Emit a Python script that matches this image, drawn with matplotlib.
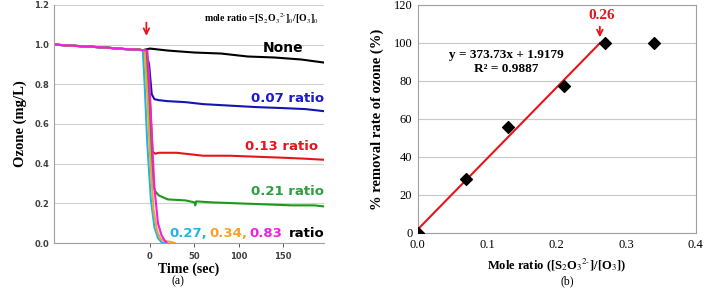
import numpy as np
import matplotlib
matplotlib.use("Agg")
import matplotlib.pyplot as plt

plt.rcParams["mathtext.fontset"] = "stix"

# ---- data (a): ozone vs time ----
t_pre = [-108, -90, -70, -50, -30, -15, -8]
o_pre = [1.0, 0.995, 0.99, 0.985, 0.978, 0.975, 0.972]

t_none = [0, 20, 50, 80, 110, 140, 170, 195]
o_none = [0.98, 0.97, 0.96, 0.955, 0.94, 0.935, 0.925, 0.91]
t_007 = [-5, -1, 2, 5, 10, 20, 40, 60, 80, 100, 120, 150, 175, 195]
o_007 = [0.97, 0.9, 0.75, 0.725, 0.72, 0.715, 0.71, 0.70, 0.695, 0.69, 0.685, 0.68, 0.675, 0.665]
t_013 = [-5, -1, 3, 6, 10, 30, 60, 90, 120, 150, 175, 195]
o_013 = [0.97, 0.8, 0.46, 0.45, 0.455, 0.455, 0.44, 0.44, 0.435, 0.43, 0.425, 0.42]
t_021 = [-5, -1, 3, 6, 10, 20, 40, 50, 51, 52, 70, 100, 130, 160, 185, 195]
o_021 = [0.97, 0.7, 0.3, 0.26, 0.24, 0.22, 0.215, 0.205, 0.19, 0.21, 0.205, 0.2, 0.195, 0.19, 0.19, 0.185]
t_027 = [-8, -6, -3, 1, 5, 9, 13, 16]
o_027 = [0.97, 0.8, 0.5, 0.22, 0.08, 0.025, 0.005, 0.0]
t_034 = [-6, -3, 0, 4, 8, 12, 18, 24, 28]
o_034 = [0.97, 0.75, 0.45, 0.17, 0.06, 0.02, 0.01, 0.005, 0.0]
t_083 = [-3, -1, 2, 5, 9, 13, 17, 19]
o_083 = [0.97, 0.85, 0.55, 0.28, 0.1, 0.04, 0.01, 0.0]

# ---- data (b): removal vs mole ratio ----
ratio = [0.0, 0.07, 0.13, 0.21, 0.27, 0.34]
removal = [0, 28.5, 55.5, 77.5, 100, 100]
slope, intercept = 373.73, 1.9179
fit_end = 0.262

fig = plt.figure(figsize=(7.07, 2.88), dpi=100)
serif = "Liberation Serif"

# ---------------- panel (a) ----------------
ax = fig.add_axes([0.0764, 0.156, 0.382, 0.827])
series = [
    (t_none, o_none, "black"),
    (t_007, o_007, "#1414b4"),
    (t_013, o_013, "#e8141c"),
    (t_021, o_021, "#1a9a1a"),
    (t_027, o_027, "#22b4e8"),
    (t_034, o_034, "#f7a030"),
    (t_083, o_083, "#f020e0"),
]
for t, o, c in series:
    ax.plot(t_pre + t, o_pre + o, color=c, lw=1.5)
ax.set_xlim(-108, 196)
ax.set_ylim(0, 1.2)
ax.set_xticks([0, 50, 100, 150])
ax.set_yticks(np.arange(0, 1.21, 0.2))
ax.set_yticklabels(["%.1f" % v for v in np.arange(0, 1.21, 0.2)])
ax.tick_params(labelsize=6, colors="#404040", length=3, width=0.6)
for lab in ax.get_xticklabels() + ax.get_yticklabels():
    lab.set_fontweight("bold")
ax.tick_params(axis="y", length=0)
ax.grid(axis="y", color="#d0d0d0", lw=0.8)
ax.set_axisbelow(True)
for s in ["top", "right"]:
    ax.spines[s].set_visible(False)
for s in ["left", "bottom"]:
    ax.spines[s].set_color("#a0a0a0")
ax.set_xlabel("Time (sec)", family=serif, fontweight="bold", fontsize=10, labelpad=1)
ax.set_ylabel("Ozone (mg/L)", family=serif, fontweight="bold", fontsize=10.5, labelpad=5)

ax.annotate("", xy=(-4, 1.03), xytext=(-4, 1.125),
            arrowprops=dict(arrowstyle="->", color="#e8141c", lw=1.3))
ax.text(190, 1.13, r"mole ratio =[S$_2$O$_3$$^{2\text{-}}$]$_0$/[O$_3$]$_0$",
        family=serif, fontweight="bold", fontsize=7, ha="right", va="center")
ax.text(150, 0.985, "None", fontsize=10, fontweight="bold", ha="center", va="center")
ax.text(155, 0.73, "0.07 ratio", fontsize=9.5, fontweight="bold", color="#1a1ad0", ha="center", va="center")
ax.text(148, 0.485, "0.13 ratio", fontsize=9.5, fontweight="bold", color="#e8141c", ha="center", va="center")
ax.text(155, 0.26, "0.21 ratio", fontsize=9.5, fontweight="bold", color="#2aa040", ha="center", va="center")
y_lab = 0.048
ax.text(22, y_lab, "0.27,", fontsize=9.5, fontweight="bold", color="#22b4e8", va="center")
ax.text(67, y_lab, "0.34,", fontsize=9.5, fontweight="bold", color="#f7a030", va="center")
ax.text(112, y_lab, "0.83", fontsize=9.5, fontweight="bold", color="#f020e0", va="center")
ax.text(156, y_lab, "ratio", fontsize=9.5, fontweight="bold", color="black", va="center", clip_on=False)
fig.text(178 / 707, 1 - 281 / 288, "(a)", family=serif, fontsize=8.5, ha="center", va="center")

# ---------------- panel (b) ----------------
bx = fig.add_axes([0.591, 0.191, 0.393, 0.792])
xf = np.array([0.0, fit_end])
bx.plot(xf, slope * xf + intercept, color="#e8141c", lw=1.5, zorder=2)
bx.scatter(ratio, removal, marker="D", s=36, color="black", zorder=3)
bx.set_xlim(0, 0.4)
bx.set_ylim(0, 120)
bx.set_xticks([0.0, 0.1, 0.2, 0.3, 0.4])
bx.set_xticklabels(["0.0", "0.1", "0.2", "0.3", "0.4"])
bx.set_yticks(range(0, 121, 20))
bx.tick_params(length=0, labelsize=9, pad=4)
for lab in bx.get_xticklabels() + bx.get_yticklabels():
    lab.set_family(serif)
bx.grid(axis="y", color="#c8c8c8", lw=0.8)
bx.set_axisbelow(True)
for s in bx.spines.values():
    s.set_color("#a0a0a0")
bx.set_xlabel(r"Mole ratio ([S$_2$O$_3$$^{2\text{-}}$]/[O$_3$])", family=serif,
              fontweight="bold", fontsize=9, labelpad=4)
bx.set_ylabel("% removal rate of ozone (%)", family=serif, fontweight="bold", fontsize=10.5, labelpad=7)
bx.text(0.128, 93.5, "y = 373.73x + 1.9179", family=serif, fontweight="bold", fontsize=9.5, ha="center", va="center")
bx.text(0.128, 86.5, "R² = 0.9887", family=serif, fontweight="bold", fontsize=9.5, ha="center", va="center")
bx.text(0.264, 114.5, "0.26", family=serif, fontweight="bold", fontsize=11, color="#e8141c", ha="center", va="center")
bx.annotate("", xy=(0.262, 101.5), xytext=(0.262, 110),
            arrowprops=dict(arrowstyle="->", color="#e8141c", lw=1.3))
fig.text(567 / 707, 1 - 281 / 288, "(b)", family=serif, fontsize=8.5, ha="center", va="center")

fig.savefig("out.png", dpi=100)
